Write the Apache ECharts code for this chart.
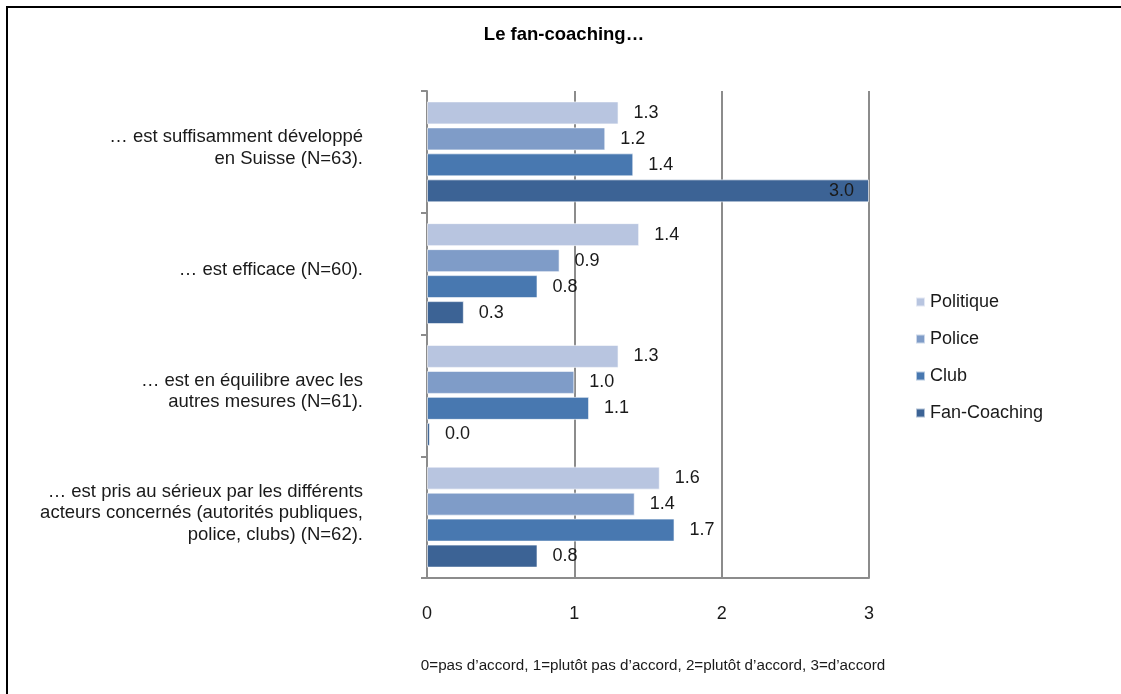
<!DOCTYPE html>
<html>
<head>
<meta charset="utf-8">
<script src="https://cdn.jsdelivr.net/npm/echarts@6/dist/echarts.min.js"></script>
<style>
  html, body { margin: 0; padding: 0; background: #fff; }
  #chart { width: 1121px; height: 694px; }
</style>
</head>
<body>
<div id="chart"></div>
<script>
// Statements about fan-coaching, mean agreement by stakeholder group
const categories = [
  '… est suffisamment développé\nen Suisse (N=63).',
  '… est efficace (N=60).',
  '… est en équilibre avec les\nautres mesures (N=61).',
  '… est pris au sérieux par les différents\nacteurs concernés (autorités publiques,\npolice, clubs) (N=62).'
];
const seriesNames = ['Politique', 'Police', 'Club', 'Fan-Coaching'];
const politique = [1.30, 1.44, 1.30, 1.58];
const police = [1.21, 0.90, 1.00, 1.41];
const club = [1.40, 0.75, 1.10, 1.68];
const fanCoaching = [3.0, 0.25, 0.02, 0.75];
const xTicks = [0, 1, 2, 3];
const titleText = 'Le fan-coaching…';
const scaleNote = '0=pas d’accord, 1=plutôt pas d’accord, 2=plutôt d’accord, 3=d’accord';

const colors = ['#B8C5E0', '#7F9CC8', '#4878B0', '#3C6395'];
const FONT = '"Liberation Sans", Arial, sans-serif';
const values = [politique, police, club, fanCoaching];

const chart = echarts.init(document.getElementById('chart'), null, { renderer: 'canvas' });

const series = seriesNames.map((name, i) => ({
  name,
  type: 'bar',
  data: values[i],
  barWidth: 23,
  barGap: '13%',
  itemStyle: { color: colors[i], borderColor: 'rgba(255,255,255,0.6)', borderWidth: 1 },
  label: {
    show: true,
    position: 'right',
    distance: 15,
    color: '#1a1a1a',
    fontFamily: FONT,
    fontSize: 18,
    formatter: p => p.value.toFixed(1)
  }
}));
// the bar that reaches the end of the scale carries its label inside
series[3].data = fanCoaching.map(v => v >= xTicks[xTicks.length - 1]
  ? { value: v, label: { position: 'insideRight', distance: 15 } }
  : v);

// category labels: one rich line per text line, plus a small spacer below
// that lifts the block slightly above the band centre
const labelFormatter = text =>
  text.split('\n').map(l => '{t|' + l + '}').join('\n') + '\n{s|}';

chart.setOption({
  animation: false,
  backgroundColor: '#fff',
  color: colors,
  title: {
    text: titleText,
    left: 564, top: 25,
    textAlign: 'center',
    padding: 0,
    textStyle: { fontFamily: FONT, fontSize: 18.5, fontWeight: 'bold', color: '#000' }
  },
  legend: {
    orient: 'vertical',
    left: 915, top: 293,
    padding: 0,
    itemWidth: 9, itemHeight: 9, itemGap: 19,
    icon: 'rect',
    data: seriesNames,
    textStyle: { fontFamily: FONT, fontSize: 18, color: '#1a1a1a', lineHeight: 18 }
  },
  grid: { left: 427, right: 252, top: 91, bottom: 116, containLabel: false },
  xAxis: {
    type: 'value',
    min: xTicks[0], max: xTicks[xTicks.length - 1], interval: 1,
    axisLine: { show: true, lineStyle: { color: '#8c8c8c', width: 2 } },
    axisTick: { show: false },
    splitLine: { show: true, lineStyle: { color: '#8c8c8c', width: 2 } },
    axisLabel: { margin: 27, color: '#1a1a1a', fontFamily: FONT, fontSize: 18 }
  },
  yAxis: {
    type: 'category',
    inverse: true,
    data: categories,
    axisLine: { show: true, lineStyle: { color: '#8c8c8c', width: 2 } },
    axisTick: { show: true, length: 6, lineStyle: { color: '#8c8c8c', width: 2 } },
    axisLabel: {
      margin: 64, align: 'right',
      formatter: labelFormatter,
      rich: {
        t: { color: '#1a1a1a', fontFamily: FONT, fontSize: 18.5, lineHeight: 21.5, align: 'right' },
        s: { fontSize: 1, height: 8, lineHeight: 8 }
      }
    }
  },
  graphic: [
    { type: 'line', shape: { x1: 6, y1: 7, x2: 1121, y2: 7 }, style: { stroke: '#000', lineWidth: 2 } },
    { type: 'line', shape: { x1: 7, y1: 6, x2: 7, y2: 694 }, style: { stroke: '#000', lineWidth: 2 } },
    {
      type: 'text', x: 653, y: 666,
      style: {
        text: scaleNote, fontFamily: FONT, fontSize: 15.2, fill: '#1a1a1a',
        textAlign: 'center', textVerticalAlign: 'middle'
      }
    }
  ],
  series
});
</script>
</body>
</html>
